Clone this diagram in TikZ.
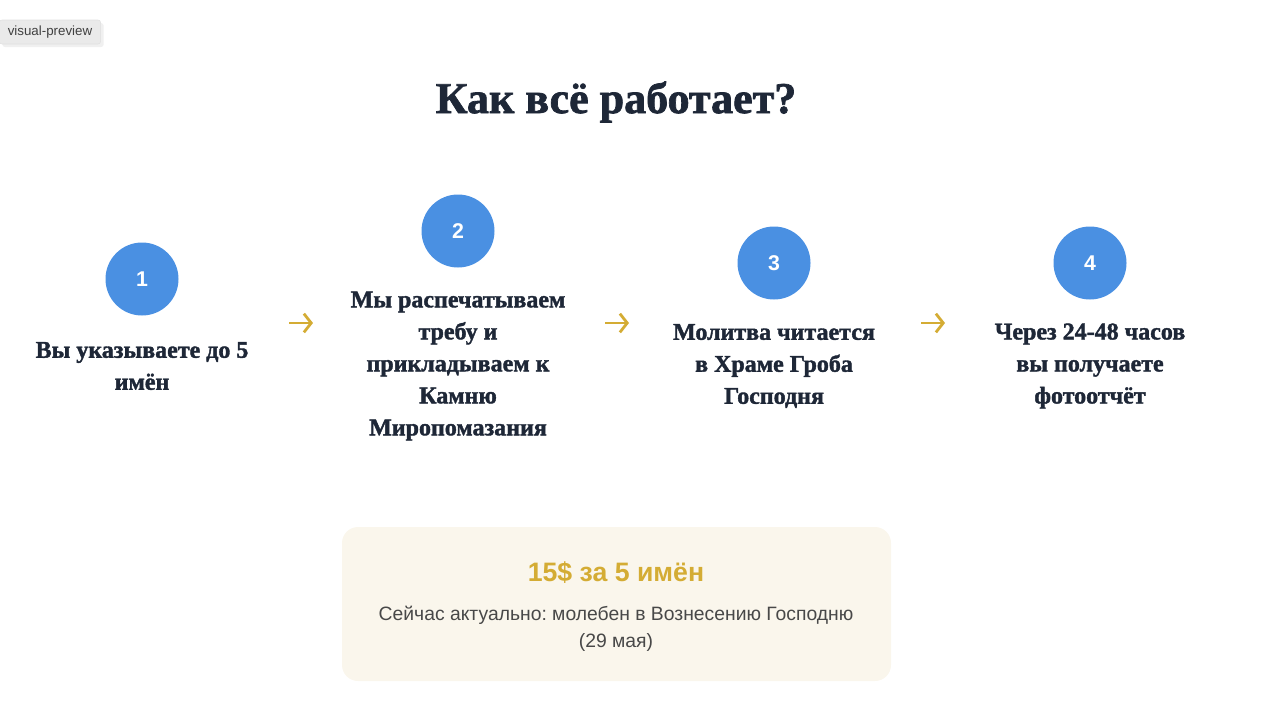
\documentclass[tikz,border=0pt]{standalone}
\usepackage{fontspec}
\setmainfont{Liberation Serif}[BoldFeatures={FakeBold=1.6}]
\setsansfont{Liberation Sans}
\usetikzlibrary{arrows.meta,positioning,shadows}
\frenchspacing
\definecolor{inkdark}{RGB}{30,39,55}
\definecolor{stepblue}{RGB}{74,144,226}
\definecolor{pricegold}{RGB}{212,172,52}
\definecolor{creambox}{RGB}{250,246,236}
\definecolor{notegray}{RGB}{72,72,72}
\definecolor{taggray}{RGB}{234,234,234}
\tikzset{
  stepnum/.style={circle, fill=stepblue, minimum size=54.75pt, inner sep=0pt,
                  text=white, font=\sffamily\bfseries\fontsize{16}{18}\selectfont},
  steptxt/.style={text=inkdark, align=center, inner sep=0pt,
                  font=\bfseries\fontsize{18}{24}\selectfont},
  goarr/.style={-{Straight Barb[length=5.5pt,width=14pt]}, pricegold, line width=2.1pt},
  pricecard/.style={fill=creambox, rounded corners=12pt, minimum width=411.75pt,
                    minimum height=115.5pt, inner sep=0pt},
}

\begin{document}
\begin{tikzpicture}[x=0.75pt, y=-0.75pt]
 \useasboundingbox (0,0) rectangle (1280,718);
 % preview tag
 \node[fill=taggray, draw=black!12, rounded corners=2pt, drop shadow={opacity=0.12},
       minimum width=76pt, minimum height=18pt, inner sep=0pt,
       font=\sffamily\fontsize{10}{12}\selectfont, text=black!75] (tag) at (50,32) {visual-preview};

 \node[text=inkdark, font=\bfseries\fontsize{33}{38}\selectfont] (title) at (616,102) {Как всё работает?};

 \foreach \cx/\cy/\num/\txt in {%
   142/279/1/{Вы указываете до 5\\имён},
   458/231/2/{Мы распечатываем\\требу и\\прикладываем к\\Камню\\Миропомазания},
   774/263/3/{Молитва читается\\в Храме Гроба\\Господня},
   1090/263/4/{Через 24-48 часов\\вы получаете\\фотоотчёт}}
 {
   \node[stepnum] (num\num) at (\cx,\cy) {\num};
   \node[steptxt] (step\num) at (\cx,366) {\txt};
 }

 \foreach \ax in {289,605,921} {
   \coordinate (as\ax) at (\ax,323);
   \coordinate (ae\ax) at (\ax+24,323);
   \draw[goarr] (as\ax) -- (ae\ax);
 }

 \node[pricecard] (card) at (616.5,604) {};
 \node[text=pricegold, font=\sffamily\bfseries\fontsize{20}{24}\selectfont] (price) at (616,573) {15\$ за 5 имён};
 \node[text=notegray, align=center, font=\sffamily\fontsize{14.5}{20.25}\selectfont] (note) at (616,629)
   {Сейчас актуально: молебен в Вознесению Господню\\(29 мая)};
\end{tikzpicture}
\end{document}
